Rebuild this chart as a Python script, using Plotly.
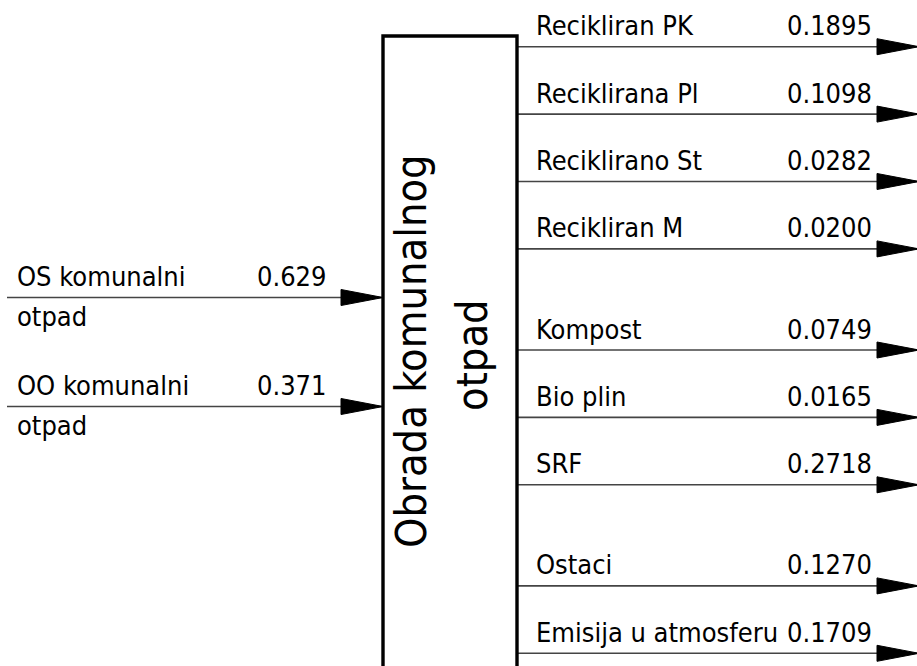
import plotly.graph_objects as go

# ---- data ----
input_labels = ["OS komunalni", "OO komunalni"]
input_sublabels = ["otpad", "otpad"]
input_values = [0.629, 0.371]
input_fmt = ["0.629", "0.371"]

output_labels = ["Recikliran PK", "Reciklirana Pl", "Reciklirano St", "Recikliran M",
                 "Kompost", "Bio plin", "SRF", "Ostaci", "Emisija u atmosferu"]
output_values = [0.1895, 0.1098, 0.0282, 0.0200, 0.0749, 0.0165, 0.2718, 0.1270, 0.1709]
output_slots = [0, 1, 2, 3, 4.5, 5.5, 6.5, 8, 9]

process_title = ["Obrada komunalnog", "otpad"]

# ---- layout constants ----
W, H = 917, 666
FONT = "Liberation Sans Narrow, DejaVu Sans Condensed, Roboto, sans-serif"
FS = 27
box_l, box_r, box_t = 383, 517, 36
out_y0, out_dy = 46.7, 67.4
in_ys = [297.5, 406.5]
arrow_len, arrow_half = 42, 8

fig = go.Figure()
annotations = []

def arrow(x_tip, y):
    fig.add_trace(go.Scatter(
        x=[x_tip - arrow_len, x_tip, x_tip - arrow_len, x_tip - arrow_len],
        y=[y - arrow_half, y, y + arrow_half, y - arrow_half],
        mode="lines", fill="toself", fillcolor="black",
        line=dict(color="black", width=1), hoverinfo="skip", showlegend=False))

# inputs
for lab, sub, val, y in zip(input_labels, input_sublabels, input_fmt, in_ys):
    fig.add_trace(go.Scatter(x=[7, box_l], y=[y, y], mode="lines",
                             line=dict(color="#444", width=1.6),
                             hoverinfo="skip", showlegend=False))
    arrow(box_l, y)
    annotations.append(dict(x=15, y=y - 21, text=lab, xanchor="left", yanchor="middle",
                            showarrow=False, font=dict(size=FS, family=FONT, color="black")))
    annotations.append(dict(x=15, y=y + 19, text=sub, xanchor="left", yanchor="middle",
                            showarrow=False, font=dict(size=FS, family=FONT, color="black")))
    annotations.append(dict(x=329, y=y - 21, text=val, xanchor="right", yanchor="middle",
                            showarrow=False, font=dict(size=FS, family=FONT, color="black")))

# outputs
for lab, val, s in zip(output_labels, output_values, output_slots):
    y = out_y0 + out_dy * s
    fig.add_trace(go.Scatter(x=[box_r, W], y=[y, y], mode="lines",
                             line=dict(color="#444", width=1.6),
                             hoverinfo="skip", showlegend=False))
    arrow(W + 2, y)
    annotations.append(dict(x=534, y=y - 21, text=lab, xanchor="left", yanchor="middle",
                            showarrow=False, font=dict(size=FS, family=FONT, color="black")))
    annotations.append(dict(x=874, y=y - 21, text=f"{val:.4f}", xanchor="right", yanchor="middle",
                            showarrow=False, font=dict(size=FS, family=FONT, color="black")))

# process box
fig.add_trace(go.Scatter(x=[box_l, box_l, box_r, box_r], y=[H + 20, box_t, box_t, H + 20],
                         mode="lines", line=dict(color="black", width=3.4),
                         hoverinfo="skip", showlegend=False))
annotations.append(dict(x=411, y=351, text=process_title[0], textangle=-90,
                        xanchor="center", yanchor="middle", showarrow=False,
                        font=dict(size=43, family=FONT, color="black")))
annotations.append(dict(x=472, y=355, text=process_title[1], textangle=-90,
                        xanchor="center", yanchor="middle", showarrow=False,
                        font=dict(size=43, family=FONT, color="black")))

fig.update_layout(
    width=W, height=H, margin=dict(l=0, r=0, t=0, b=0),
    paper_bgcolor="white", plot_bgcolor="white",
    xaxis=dict(range=[0, W], visible=False, fixedrange=True),
    yaxis=dict(range=[H, 0], visible=False, fixedrange=True),
    annotations=annotations, showlegend=False,
)
fig.write_html("out.html", config={"displayModeBar": False},
               post_script="document.body.style.margin='0';document.body.style.overflow='hidden';")
